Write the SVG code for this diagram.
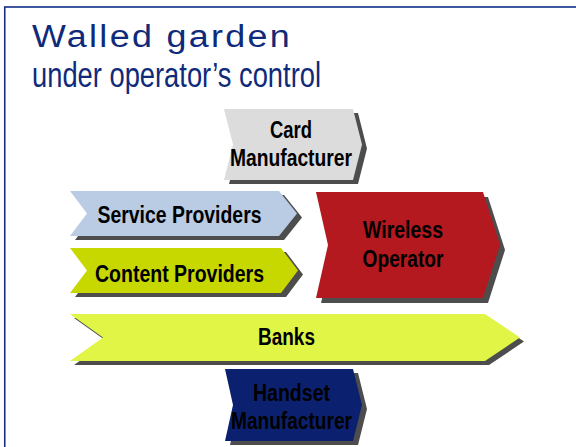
<svg xmlns="http://www.w3.org/2000/svg" width="576" height="447" viewBox="0 0 576 447">
<style>
.shadow{fill:#4d4d4d}
.lbl{font-family:"Liberation Sans Narrow","Liberation Sans",Arial,sans-serif;font-weight:bold;font-size:23px;fill:#000;text-anchor:middle}
.title{font-family:"Liberation Sans",Arial,sans-serif;fill:#0f2a7a}
</style>
<rect x="0" y="0" width="576" height="447" fill="#fff"/>
<rect x="4.75" y="7" width="640" height="500" fill="none" stroke="#123088" stroke-width="1.6"/>
<g id="title">
<text class="title" x="32" y="47" font-size="31" letter-spacing="2" textLength="260" lengthAdjust="spacingAndGlyphs">Walled garden</text>
<text class="title" x="32" y="87" font-size="35" textLength="289" lengthAdjust="spacingAndGlyphs">under operator’s control</text>
</g>
<g id="connectors"></g>
<g id="card">
<polygon class="shadow" transform="translate(5,4)" points="224,109 353,109 362,144.5 353,180 224,180 233,144.5"/>
<polygon fill="#dcdcdc" points="224,109 353,109 362,144.5 353,180 224,180 233,144.5"/>
<text class="lbl" x="291" y="138" textLength="42" lengthAdjust="spacingAndGlyphs">Card</text>
<text class="lbl" x="291" y="166" textLength="122" lengthAdjust="spacingAndGlyphs">Manufacturer</text>
</g>
<g id="service">
<polygon class="shadow" transform="translate(5,4)" points="70,191 279,191 297,213.5 279,236 70,236 87,213.5"/>
<polygon fill="#b9cce3" points="70,191 279,191 297,213.5 279,236 70,236 87,213.5"/>
<text class="lbl" x="179.5" y="223" textLength="164" lengthAdjust="spacingAndGlyphs">Service Providers</text>
</g>
<g id="content">
<polygon class="shadow" transform="translate(5,4)" points="70,248 281,248 298,270.5 281,293 70,293 87,270.5"/>
<polygon fill="#c6d800" points="70,248 281,248 298,270.5 281,293 70,293 87,270.5"/>
<text class="lbl" x="179.5" y="281.5" textLength="169" lengthAdjust="spacingAndGlyphs">Content Providers</text>
</g>
<g id="wireless">
<polygon class="shadow" transform="translate(5,5)" points="316,192 483,192 500,245 483,298 316,298 328,245"/>
<polygon fill="#b3191e" points="316,192 483,192 500,245 483,298 316,298 328,245"/>
<text class="lbl" x="403" y="238" textLength="80" lengthAdjust="spacingAndGlyphs">Wireless</text>
<text class="lbl" x="403" y="267" textLength="81" lengthAdjust="spacingAndGlyphs">Operator</text>
</g>
<g id="banks">
<polygon class="shadow" transform="translate(4,4)" points="70,314 485,314 520,337.5 485,361 70,361 103,337.5"/>
<polygon fill="#e0f546" points="70,314 485,314 520,337.5 485,361 70,361 103,337.5"/>
<text class="lbl" x="286.5" y="345" textLength="57" lengthAdjust="spacingAndGlyphs">Banks</text>
</g>
<g id="handset">
<polygon class="shadow" transform="translate(5,4)" points="225,369 353,369 362,405 353,441 225,441 233,405"/>
<polygon fill="#0b216f" points="225,369 353,369 362,405 353,441 225,441 233,405"/>
<text class="lbl" x="291.5" y="401" textLength="77" lengthAdjust="spacingAndGlyphs">Handset</text>
<text class="lbl" x="291.5" y="429" textLength="121" lengthAdjust="spacingAndGlyphs">Manufacturer</text>
</g>
</svg>
